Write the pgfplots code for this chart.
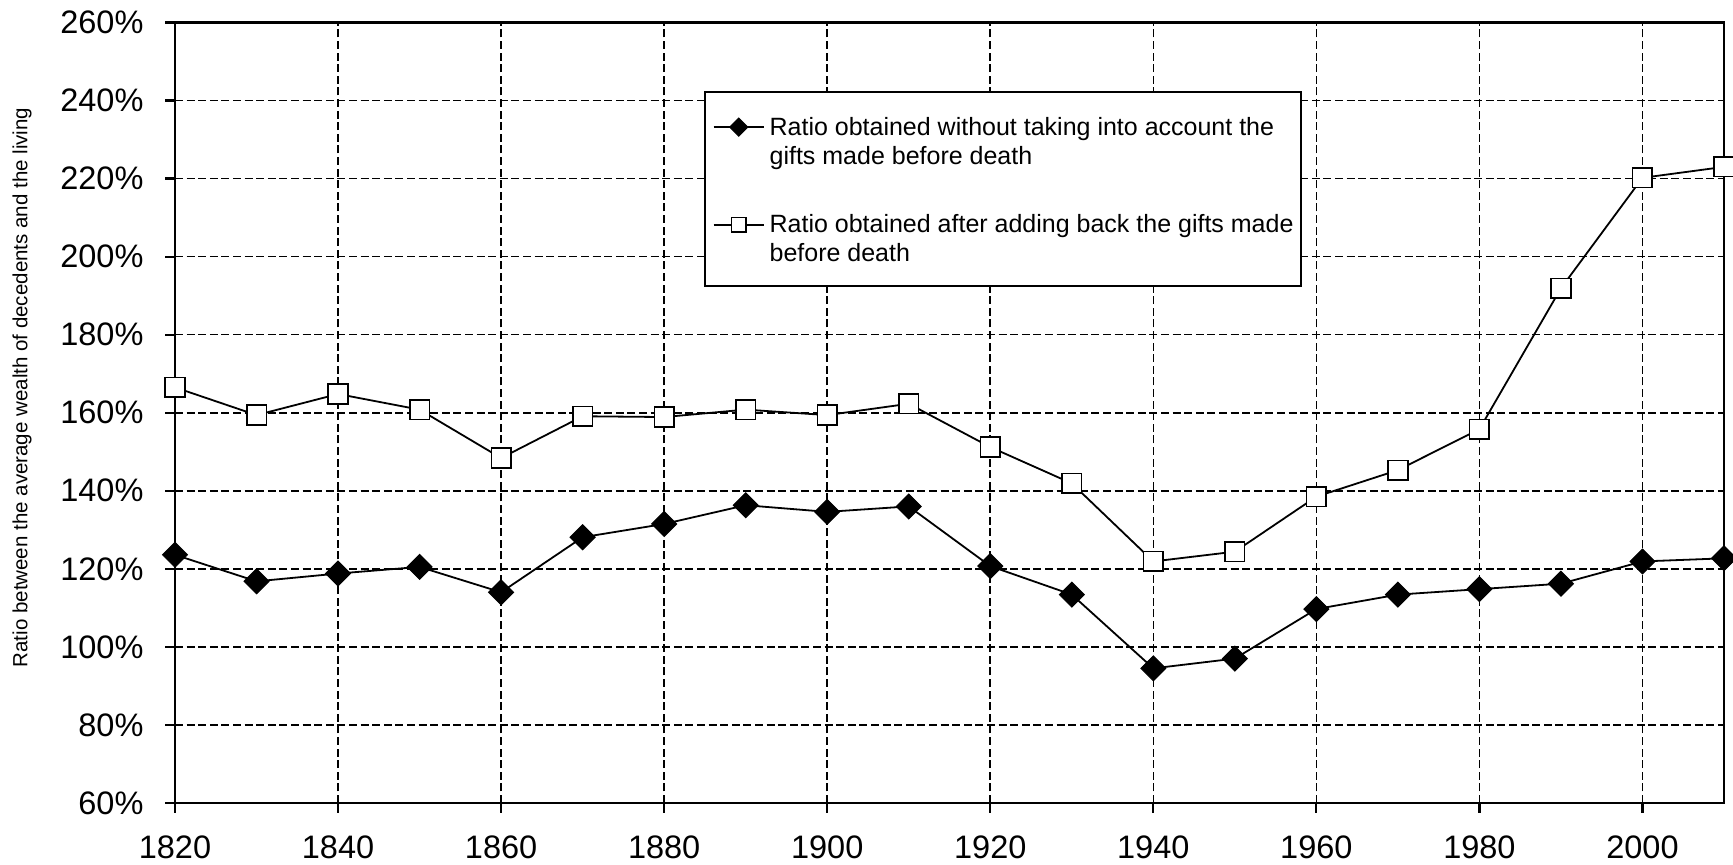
\documentclass[border=0pt]{standalone}
\usepackage{pgfplots}
\pgfplotsset{compat=1.18}
\usepackage{fontspec}
\setmainfont{Liberation Sans}
\usetikzlibrary{plotmarks}

\pgfplotstableread{
year lower upper
1820 123.6 166.5
1830 116.8 159.4
1840 118.8 164.8
1850 120.5 160.8
1860 114.0 148.4
1870 128.1 159.1
1880 131.5 158.9
1890 136.3 160.8
1900 134.6 159.4
1910 136.0 162.3
1920 120.7 151.2
1930 113.4 141.9
1940 94.5 121.9
1950 97.0 124.4
1960 109.7 138.5
1970 113.4 145.3
1980 114.8 155.8
1990 116.2 191.9
2000 121.9 220.2
2010 122.7 223.0
}\datatable

\newcommand{\twolines}[2]{\vtop{\hbox{#1}\hbox{#2}}}

\begin{document}
\begin{tikzpicture}
\path[use as bounding box] (0bp,0bp) rectangle (866.5bp,432.5bp);
\begin{axis}[
  scale only axis,
  width=774.5bp, height=390.25bp,
  at={(87.5bp,31bp)}, anchor=south west,
  xmin=1820, xmax=2010, ymin=60, ymax=260,
  xtick={1820,1840,1860,1880,1900,1920,1940,1960,1980,2000},
  xticklabels={1820,1840,1860,1880,1900,1920,1940,1960,1980,2000},
  ytick={60,80,100,120,140,160,180,200,220,240,260},
  yticklabels={60\%,80\%,100\%,120\%,140\%,160\%,180\%,200\%,220\%,240\%,260\%},
  grid=major,
  major grid style={black, line width=0.8bp, dash pattern=on 4bp off 1.8bp},
  axis line style={black, line width=1.1bp},
  tick style={black, line width=1.1bp},
  major tick length=4.75bp,
  tick align=outside, tick pos=left,
  ticklabel style={font=\fontsize{16.25bp}{19bp}\selectfont},
  xticklabel style={inner sep=0pt, yshift=-11.5bp},
  yticklabel style={xshift=-7.5bp},
  ylabel={Ratio between the average wealth of decedents and the living},
  ylabel style={font=\fontsize{10.25bp}{12bp}\selectfont, at={(axis description cs:-0.0923,0.5324)}, anchor=south, inner sep=0pt},
  clip=false,
  legend style={at={(axis description cs:0.3415,0.912)}, anchor=north west,
    draw=black, line width=1bp, fill=white,
    inner xsep=3.9bp, inner ysep=12.5bp,
    row sep=22.25bp,
    font=\fontsize{12.5bp}{14.5bp}\selectfont,
    nodes={inner sep=0pt, text depth=, },
    cells={anchor=base west},
    column sep=2.5bp},
]
\addplot[black, line width=0.9bp, mark=square*, mark size=4.4bp,
  mark options={rotate=45, fill=black, line width=0.5bp},
  legend image code/.code={
    \draw[black, line width=0.9bp] (0bp,4.1bp) -- (25bp,4.1bp);
    \path[draw=black, fill=black, line width=0.5bp] plot[mark=square*, mark size=3.2bp, mark options={rotate=45}] coordinates {(12.5bp,4.1bp)};
  }] table[x=year, y=lower] {\datatable};
\addlegendentry{\twolines{Ratio obtained without taking into account the}{gifts made before death}}
\addplot[black, line width=0.9bp, mark=square*, mark size=4.9bp,
  mark options={fill=white, line width=0.8bp},
  legend image code/.code={
    \draw[black, line width=0.9bp] (0bp,3.6bp) -- (25bp,3.6bp);
    \path[draw=black, fill=white, line width=0.8bp] plot[mark=square*, mark size=3.7bp] coordinates {(12.5bp,3.6bp)};
  }] table[x=year, y=upper] {\datatable};
\addlegendentry{\twolines{Ratio obtained after adding back the gifts made}{before death}}
\end{axis}
\end{tikzpicture}
\end{document}
